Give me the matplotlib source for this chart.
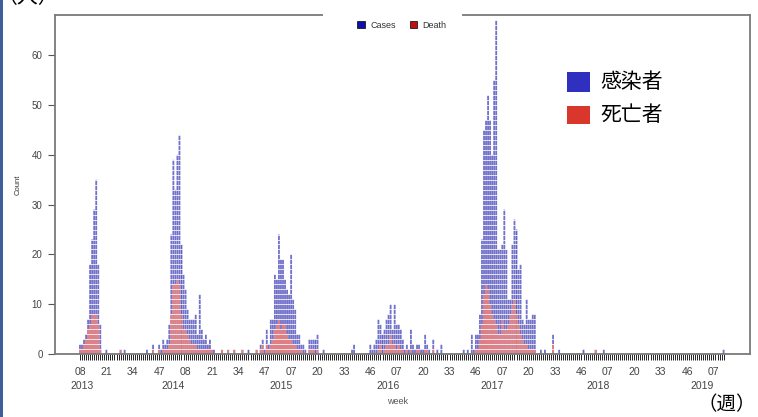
import numpy as np
import matplotlib
matplotlib.use('Agg')
import matplotlib.pyplot as plt
from matplotlib.patches import Rectangle, Patch

plt.rcParams['font.family'] = ['Liberation Sans', 'DejaVu Sans']

# week index 0 = 2013 week 08; only weeks with cases are listed
week_idx = [0, 1, 2, 3, 4, 5, 6, 7, 8, 9, 10, 13, 20, 22, 33, 36,
            39, 40, 41, 42, 43, 44, 45, 46, 47, 48, 49, 50, 51, 52, 53, 54, 55, 56, 57, 58,
            59, 60, 61, 62, 63, 64, 65, 66, 70, 73, 76, 80, 83, 87,
            89, 90, 91, 92, 93, 94, 95, 96, 97, 98, 99, 100, 101, 102, 103, 104, 105, 106,
            107, 108, 109, 110, 111, 113, 114, 115, 116, 117, 120,
            134, 135, 143, 144, 145, 146, 147, 148, 149, 150, 151, 152, 153, 154, 155, 156,
            157, 158, 159, 160, 161, 162, 163, 164, 165, 166, 167, 168, 169, 170, 171, 172,
            174, 176, 178,
            189, 191, 193, 194, 195, 196, 197, 198, 199, 200, 201, 202, 203, 204, 205, 206,
            207, 208, 209, 210, 211, 212, 213, 214, 215, 216, 217, 218, 219, 220, 221, 222,
            223, 224, 227, 229, 233, 236, 248, 254, 258, 317]
cases = [2, 2, 3, 4, 7, 18, 23, 29, 35, 18, 6, 1, 1, 1, 1, 2,
         2, 1, 3, 2, 3, 6, 24, 39, 33, 40, 44, 22, 16, 13, 9, 7, 7, 7, 8, 4,
         12, 5, 3, 4, 2, 3, 1, 1, 1, 1, 1, 1, 1, 1,
         2, 3, 1, 5, 2, 7, 7, 16, 15, 24, 19, 19, 15, 13, 12, 20, 11, 9,
         4, 4, 2, 2, 1, 3, 3, 3, 3, 4, 1,
         1, 2, 2, 1, 2, 3, 7, 6, 4, 5, 7, 8, 10, 5, 10, 6,
         6, 5, 3, 1, 2, 1, 5, 2, 1, 2, 2, 1, 1, 4, 2, 1,
         3, 1, 2,
         1, 1, 4, 1, 4, 4, 8, 23, 45, 47, 52, 47, 40, 55, 67, 21,
         21, 22, 29, 21, 11, 11, 22, 27, 25, 17, 18, 7, 6, 11, 7, 7,
         8, 8, 1, 1, 4, 1, 1, 1, 1, 1]
deaths = [1, 1, 2, 3, 5, 6, 8, 8, 8, 6, 1, 0, 1, 0, 0, 1,
          1, 0, 1, 1, 1, 2, 8, 14, 14, 15, 14, 8, 5, 5, 4, 3, 2, 2, 2, 1,
          1, 1, 1, 1, 1, 1, 1, 0, 1, 1, 1, 1, 0, 1,
          1, 2, 0, 2, 1, 2, 3, 5, 6, 7, 5, 6, 6, 4, 3, 3, 2, 2,
          1, 1, 1, 0, 0, 1, 1, 1, 0, 1, 0,
          0, 0, 0, 0, 0, 0, 1, 2, 0, 1, 2, 2, 4, 2, 2, 1,
          2, 1, 1, 0, 1, 0, 1, 0, 0, 1, 1, 0, 0, 1, 1, 0,
          1, 0, 0,
          0, 0, 0, 0, 1, 1, 3, 6, 12, 14, 13, 10, 8, 7, 6, 4,
          4, 7, 5, 5, 6, 8, 10, 11, 8, 6, 4, 3, 2, 2, 1, 1,
          1, 1, 0, 0, 2, 0, 0, 1, 0, 0]

tick_labels = ['08', '21', '34', '47', '08', '21', '34', '47', '07', '20', '33', '46', '07',
               '20', '33', '46', '07', '20', '33', '46', '07', '20', '33', '46', '07']
year_labels = ['2013', '2014', '2015', '2016', '2017', '2018', '2019']
year_pos = [1, 46, 99, 151.5, 203, 255, 306.5]

W, H = 758, 417
fig = plt.figure(figsize=(W / 100, H / 100), dpi=100)
ax = fig.add_axes([55 / W, 1 - 354 / H, (750 - 55) / W, (354 - 15) / H])

# weekly bars, deaths on top of the lower part, white lines cut them into one block per case
ax.bar(week_idx, cases, width=0.9, color='#6262c6', edgecolor='none', zorder=1, snap=False)
ax.bar(week_idx, deaths, width=0.9, color='#e47272', edgecolor='none', zorder=1.1, snap=False)
ax.hlines(np.arange(1, 68), -12.3, 330, color='white', linewidth=0.55, zorder=1.2)
ax.vlines(np.arange(-0.5, 318), 0, 68, color='white', linewidth=0.25, zorder=1.2, alpha=0.6)

ax.set_xlim(-12.3, 330)
ax.set_ylim(0, 68.1)

for s in ax.spines.values():
    s.set_color('#7a7a7a')
    s.set_linewidth(1.3)
    s.set_zorder(3)

ax.set_yticks(range(0, 70, 10))
ax.tick_params(axis='y', length=5, width=0.8, color='#555555', labelsize=7,
               labelcolor='#444444', pad=4)
ax.set_xticks(np.arange(0, 13 * len(tick_labels), 13))
ax.set_xticklabels(tick_labels)
ax.set_xticks(np.arange(0, 318), minor=True)
ax.tick_params(axis='x', which='both', length=4.5, width=0.6, color='black',
               labelsize=7.5, labelcolor='#444444', pad=5)

for pos, lab in zip(year_pos, year_labels):
    ax.text(pos, -0.094, lab, transform=ax.get_xaxis_transform(), ha='center', va='center',
            fontsize=7.5, color='#444444')
ax.text((398 - 55) / 695, -0.139, 'week', transform=ax.transAxes, ha='center', va='center',
        fontsize=6.5, color='#555555')
ax.set_ylabel('Count', fontsize=5.5, color='#333333')
ax.yaxis.set_label_coords(-(55 - 22) / 695, (354 - 185) / 339)

# legend sitting on the top border
fig.add_artist(Rectangle((323 / W, 1 - 20 / H), (462 - 323) / W, 10 / H,
                         transform=fig.transFigure, facecolor='white', edgecolor='none', zorder=3))
handles = [Patch(facecolor='#1010a8', edgecolor='black', linewidth=0.5),
           Patch(facecolor='#c01010', edgecolor='black', linewidth=0.5)]
leg = fig.legend(handles, ['Cases', 'Death'], loc='center', bbox_to_anchor=(402 / W, 1 - 25 / H),
                 ncol=2, fontsize=6.5, frameon=False, handlelength=0.8, handleheight=0.7,
                 handletextpad=0.6, columnspacing=1.6)
leg.set_zorder(4)
for t in leg.get_texts():
    t.set_color('#333333')

# Japanese annotations
jp = ['Noto Sans CJK JP', 'DejaVu Sans']
fig.add_artist(Rectangle((567 / W, 1 - 92 / H), 23 / W, 20 / H, transform=fig.transFigure,
                         facecolor='#3030c0', edgecolor='none'))
fig.add_artist(Rectangle((567 / W, 1 - 124 / H), 23 / W, 18 / H, transform=fig.transFigure,
                         facecolor='#d9362c', edgecolor='none'))
fig.text(600 / W, 1 - 82 / H, '感染者', fontsize=15, va='center', ha='left', family=jp)
fig.text(600 / W, 1 - 115 / H, '死亡者', fontsize=15, va='center', ha='left', family=jp)
fig.text(727 / W, 1 - 405 / H, '（週）', fontsize=14, va='center', ha='center', family=jp)
fig.text(28 / W, 1 + 3 / H, '（人）', fontsize=15, va='center', ha='center', family=jp)

# blue strip on the left edge
fig.add_artist(Rectangle((0, 0), 3 / W, 1, transform=fig.transFigure,
                         facecolor='#3f5f9a', edgecolor='none'))

fig.savefig('out.png', dpi=100)
